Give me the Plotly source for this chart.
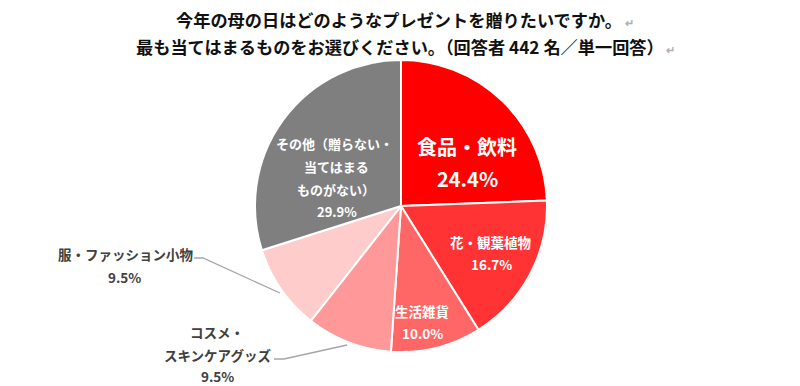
import plotly.graph_objects as go

W, H = 800, 386

categories = ["食品・飲料", "花・観葉植物", "生活雑貨", "コスメ・スキンケアグッズ", "服・ファッション小物", "その他（贈らない・当てはまるものがない）"]
values = [24.4, 16.7, 10.0, 9.5, 9.5, 29.9]
colors = ["#FF0000", "#FF3333", "#FF6666", "#FF9999", "#FFCCCC", "#7F7F7F"]

title_lines = ["今年の母の日はどのようなプレゼントを贈りたいですか。",
               "最も当てはまるものをお選びください。（回答者 442 名／単一回答）"]

FONT = "Noto Sans CJK JP"

def px(x):
    return x / W

def py(y):
    return 1 - y / H

fig = go.Figure()
fig.add_trace(go.Pie(
    labels=categories, values=values, sort=False, direction="clockwise", rotation=0,
    marker=dict(colors=colors, line=dict(color="white", width=2)),
    textinfo="none", hoverinfo="label+percent", showlegend=False,
    domain=dict(x=[px(255), px(547)], y=[py(352), py(60)]),
))

ann = []
def add(text, x, y, size, color, bold=True):
    ann.append(dict(text=f"<b>{text}</b>" if bold else text, x=px(x), y=py(y), xref="paper", yref="paper",
                    showarrow=False, xanchor="center", yanchor="middle",
                    font=dict(family=FONT, size=size, color=color)))

# title
mark = "<span style='color:#b0b0b0;font-size:11px'> ↵</span>"
add(title_lines[0] + mark, 405, 20, 17.2, "#111111")
add(title_lines[1] + mark, 405, 47, 17.2, "#111111")

def pct(v):
    return f"{v:.1f}%"

# inside labels
add("食品・飲料", 467, 146, 20, "white")
add(pct(values[0]), 467, 178, 20, "white")
add("花・観葉植物", 491, 242, 13.5, "white")
add(pct(values[1]), 491, 264, 13.5, "white")
add("生活雑貨", 422, 311, 13.5, "white")
add(pct(values[2]), 422, 333, 13.5, "white")
add("その他（贈らない・", 334, 143, 13, "white")
add("当てはまる", 336, 166, 13, "white")
add("ものがない）", 336, 189, 13, "white")
add(pct(values[5]), 337, 212, 13, "white")

# outside labels
dark = "#404040"
add("服・ファッション小物", 126, 254, 13.5, dark)
add(pct(values[4]), 124, 277, 13.5, dark)
add("コスメ・", 217, 332, 13.5, dark)
add("スキンケアグッズ", 217, 355, 13.5, dark)
add(pct(values[3]), 217, 376, 13.5, dark)

shapes = []
def path(points):
    d = "M " + " L ".join(f"{px(x)},{py(y)}" for x, y in points)
    shapes.append(dict(type="path", path=d, xref="paper", yref="paper",
                       line=dict(color="#A6A6A6", width=1.3)))

path([(194, 258), (203, 258), (280, 293)])
path([(274, 359), (284, 359), (347, 345)])

fig.update_layout(
    width=W, height=H, margin=dict(l=0, r=0, t=0, b=0),
    paper_bgcolor="white", plot_bgcolor="white",
    annotations=ann, shapes=shapes,
)
fig.write_html("out.html", config={"displayModeBar": False},
               post_script="document.body.style.margin='0';document.body.style.overflow='hidden';")
